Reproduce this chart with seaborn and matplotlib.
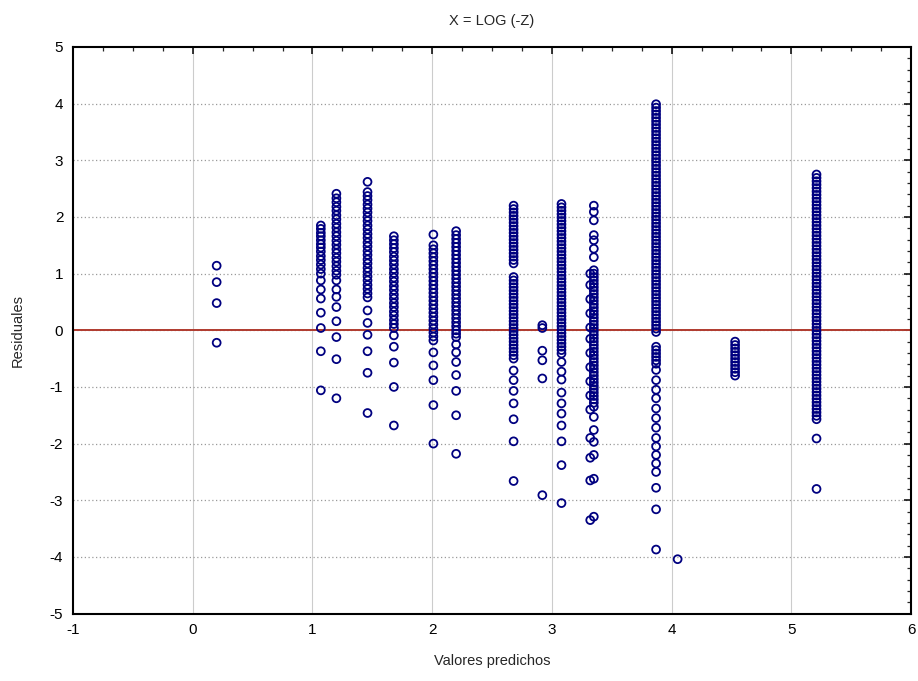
import matplotlib
matplotlib.use("Agg")
import matplotlib.pyplot as plt
import seaborn as sns
import pandas as pd
from matplotlib.ticker import MultipleLocator

# ---- data ----
title = "X = LOG (-Z)"
x_label = "Valores predichos"
y_label = "Residuales"

predicted = [0.20, 1.07, 1.20, 1.46, 1.68, 2.01, 2.20, 2.68, 2.92, 3.08, 3.32, 3.35, 3.87, 4.05, 4.53, 5.21]

res_020 = [1.14, 0.85, 0.48, -0.22]
res_107 = [1.85, 1.79, 1.72, 1.66, 1.59, 1.52, 1.46, 1.39, 1.31, 1.24, 1.16, 1.08, 1.00,
           0.88, 0.72, 0.56, 0.31, 0.04, -0.37, -1.06]
res_120 = [2.41, 2.33, 2.26, 2.18, 2.11, 2.03, 1.96, 1.88, 1.81, 1.73, 1.66, 1.58, 1.51, 1.43,
           1.36, 1.28, 1.21, 1.13, 1.05, 0.98, 0.88, 0.72, 0.59, 0.41, 0.16, -0.12, -0.51, -1.20]
res_146 = [2.62, 2.44, 2.37, 2.30, 2.22, 2.15, 2.08, 2.00, 1.93, 1.85, 1.78, 1.70, 1.63, 1.55,
           1.48, 1.40, 1.33, 1.25, 1.18, 1.10, 1.03, 0.95, 0.88, 0.80, 0.73, 0.65, 0.58, 0.35,
           0.13, -0.08, -0.37, -0.75, -1.46]
res_168 = [1.66, 1.59, 1.52, 1.45, 1.38, 1.30, 1.23, 1.16, 1.08, 1.01, 0.93, 0.86, 0.78, 0.71,
           0.63, 0.56, 0.48, 0.41, 0.33, 0.26, 0.18, 0.11, 0.04, -0.09, -0.29, -0.57, -1.00, -1.68]
res_201 = [1.69, 1.50, 1.43, 1.36, 1.29, 1.22, 1.15, 1.08, 1.01, 0.94, 0.87, 0.80, 0.73, 0.66,
           0.59, 0.52, 0.45, 0.38, 0.31, 0.24, 0.17, 0.10, 0.03, -0.04, -0.11, -0.18, -0.39,
           -0.62, -0.88, -1.32, -2.00]
res_220 = [1.75, 1.68, 1.61, 1.54, 1.47, 1.40, 1.33, 1.26, 1.19, 1.12, 1.05, 0.98, 0.91, 0.84,
           0.77, 0.70, 0.63, 0.56, 0.49, 0.42, 0.35, 0.28, 0.21, 0.14, 0.07, 0.00, -0.06, -0.12,
           -0.25, -0.39, -0.56, -0.79, -1.07, -1.50, -2.18]
res_268 = [2.20, 2.14, 2.08, 2.02, 1.96, 1.90, 1.84, 1.78, 1.72, 1.66, 1.60, 1.54, 1.48, 1.42,
           1.36, 1.30, 1.24, 1.18, 0.94, 0.88, 0.82, 0.76, 0.70, 0.64, 0.58, 0.52, 0.46, 0.40,
           0.34, 0.28, 0.22, 0.16, 0.10, 0.04, -0.02, -0.08, -0.14, -0.20, -0.26, -0.32, -0.38,
           -0.44, -0.50, -0.71, -0.88, -1.07, -1.29, -1.57, -1.96, -2.66]
res_292 = [0.09, 0.04, -0.36, -0.53, -0.85, -2.91]
res_308 = [2.23, 2.17, 2.11, 2.05, 1.99, 1.93, 1.87, 1.81, 1.75, 1.69, 1.63, 1.57, 1.51, 1.45,
           1.39, 1.33, 1.27, 1.21, 1.15, 1.09, 1.03, 0.97, 0.91, 0.85, 0.79, 0.73, 0.67, 0.61,
           0.55, 0.49, 0.43, 0.37, 0.31, 0.25, 0.19, 0.13, 0.07, 0.01, -0.05, -0.11, -0.17,
           -0.23, -0.29, -0.35, -0.41, -0.56, -0.73, -0.87, -1.10, -1.29, -1.47, -1.68, -1.96,
           -2.38, -3.05]
res_332 = [1.00, 0.80, 0.55, 0.30, 0.05, -0.15, -0.40, -0.65, -0.90, -1.15, -1.40, -1.90,
           -2.25, -2.65, -3.35]
res_335 = [2.20, 2.09, 1.94, 1.68, 1.59, 1.44, 1.29, 1.06, 1.00, 0.94, 0.88, 0.82, 0.76, 0.70,
           0.64, 0.58, 0.52, 0.46, 0.40, 0.34, 0.28, 0.22, 0.16, 0.10, 0.04, -0.02, -0.08,
           -0.14, -0.20, -0.26, -0.32, -0.38, -0.44, -0.50, -0.56, -0.62, -0.68, -0.74, -0.80,
           -0.86, -0.92, -0.98, -1.04, -1.10, -1.16, -1.22, -1.28, -1.35, -1.53, -1.76, -1.97,
           -2.20, -2.62, -3.29]
res_387 = [3.99, 3.93, 3.87, 3.81, 3.75, 3.69, 3.63, 3.57, 3.51, 3.45, 3.39, 3.33, 3.27, 3.21,
           3.15, 3.09, 3.03, 2.97, 2.91, 2.85, 2.79, 2.73, 2.67, 2.61, 2.55, 2.49, 2.43, 2.37,
           2.31, 2.25, 2.19, 2.13, 2.07, 2.01, 1.95, 1.89, 1.83, 1.77, 1.71, 1.65, 1.59, 1.53,
           1.47, 1.41, 1.35, 1.29, 1.23, 1.17, 1.11, 1.05, 0.99, 0.93, 0.87, 0.81, 0.75, 0.69,
           0.63, 0.57, 0.51, 0.45, 0.39, 0.33, 0.27, 0.21, 0.15, 0.09, 0.03, -0.03, -0.29,
           -0.35, -0.41, -0.47, -0.53, -0.59, -0.70, -0.88, -1.05, -1.20, -1.38, -1.55, -1.72,
           -1.90, -2.05, -2.20, -2.35, -2.50, -2.78, -3.16, -3.87]
res_405 = [-4.04]
res_453 = [-0.20, -0.26, -0.32, -0.38, -0.44, -0.50, -0.56, -0.62, -0.68, -0.74, -0.80]
res_521 = [2.75, 2.69, 2.63, 2.57, 2.51, 2.45, 2.39, 2.33, 2.27, 2.21, 2.15, 2.09, 2.03, 1.97,
           1.91, 1.85, 1.79, 1.73, 1.67, 1.61, 1.55, 1.49, 1.43, 1.37, 1.31, 1.25, 1.19, 1.13,
           1.07, 1.01, 0.95, 0.89, 0.83, 0.77, 0.71, 0.65, 0.59, 0.53, 0.47, 0.41, 0.35, 0.29,
           0.23, 0.17, 0.11, 0.05, -0.01, -0.07, -0.13, -0.19, -0.25, -0.31, -0.37, -0.43,
           -0.49, -0.55, -0.61, -0.67, -0.73, -0.79, -0.85, -0.91, -0.97, -1.03, -1.09, -1.15,
           -1.21, -1.27, -1.33, -1.39, -1.45, -1.51, -1.57, -1.91, -2.80]

residual_groups = [res_020, res_107, res_120, res_146, res_168, res_201, res_220, res_268,
                   res_292, res_308, res_332, res_335, res_387, res_405, res_453, res_521]

xticks = [-1, 0, 1, 2, 3, 4, 5, 6]
yticks = [-5, -4, -3, -2, -1, 0, 1, 2, 3, 4, 5]

rows = []
for xv, grp in zip(predicted, residual_groups):
    for yv in grp:
        rows.append((xv, yv))
df = pd.DataFrame(rows, columns=["pred", "res"])

# ---- figure ----
sns.set_theme(style="white")
plt.rcParams["font.family"] = ["Liberation Sans", "DejaVu Sans"]
plt.rcParams["axes.unicode_minus"] = False

fig = plt.figure(figsize=(9.18, 6.81), dpi=100)
ax = fig.add_axes([0.0795, 0.099, 0.913, 0.832])

# grid
for xv in xticks[1:-1]:
    ax.axvline(xv, color="#cccccc", lw=0.8, zorder=0)
for yv in yticks[1:-1]:
    ax.axhline(yv, color="#9a9a9a", lw=0.9, ls=(0, (1, 2)), zorder=0)

ax.axhline(0, color="#b03a2e", lw=1.4, zorder=1)

sns.scatterplot(data=df, x="pred", y="res", ax=ax, marker="o", s=32,
                facecolor="none", edgecolor="#000080", linewidth=1.3, zorder=3, legend=False)

ax.set_xlim(-1, 6)
ax.set_ylim(-5, 5)
ax.set_xticks(xticks)
ax.set_yticks(yticks)
ax.xaxis.set_minor_locator(MultipleLocator(0.25))
ax.yaxis.set_minor_locator(MultipleLocator(0.2))
ax.tick_params(which="major", direction="in", length=5, width=1.1, top=True, right=True,
               labelsize=11, colors="black", pad=7)
ax.tick_params(which="minor", direction="in", length=3, width=0.9, top=True, right=True)
for s in ax.spines.values():
    s.set_color("black")
    s.set_linewidth(1.5)

ax.set_xlabel(x_label, fontsize=10.5, labelpad=12)
ax.set_ylabel(y_label, fontsize=10.5, labelpad=18)
ax.set_title(title, fontsize=10.5, pad=16)

fig.savefig("out.png", dpi=100)
